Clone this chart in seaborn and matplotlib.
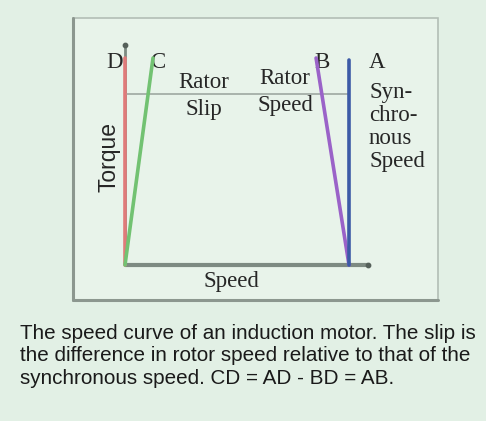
import matplotlib
matplotlib.use("Agg")
import matplotlib.pyplot as plt
import seaborn as sns
import pandas as pd

# ---- data (speed as fraction of synchronous speed, torque normalised) ----
line_names = ["D", "C", "B", "A"]
line_speed = [[0.0, 0.0], [0.0, 0.125], [1.0, 0.853], [1.0, 1.0]]
line_torque = [[0.0, 1.0], [0.0, 1.0], [0.0, 1.0], [0.0, 0.99]]
line_colors = ["#e07a7a", "#72c272", "#9a62c8", "#3c5aa6"]
slip_level = 0.826
axis_x_end = 1.085
axis_y_end = 1.063
x_label = "Speed"
y_label = "Torque"
caption = ("The speed curve of an induction motor. The slip is\n"
           "the difference in rotor speed relative to that of the\n"
           "synchronous speed. CD = AD - BD = AB.")

sns.set_theme(style="white")
W, H = 486, 421
fig = plt.figure(figsize=(W / 100, H / 100), dpi=100)
fig.patch.set_facecolor("#e2f0e5")

# background / frame axes in pixel coordinates
bg = fig.add_axes([0, 0, 1, 1])
bg.set_xlim(0, W)
bg.set_ylim(H, 0)
bg.axis("off")
bg.add_patch(plt.Rectangle((73, 18), 365, 282, facecolor="#e8f3ea",
                           edgecolor="#b3beb6", linewidth=1.2))
bg.plot([73, 73], [18, 300], color="#8c978f", lw=2.2)
bg.plot([73, 438], [300, 300], color="#8c978f", lw=2.2)
bg.text(20, 324, caption, fontsize=14.9, family="Liberation Sans",
        color="#1a1a1a", linespacing=1.23, va="top", ha="left")

# main data axes: origin at pixel (125, 265), speed 1.0 at x=349, torque 1.0 at y=58
ox, oy, sx, sy = 125, 265, 349, 58
ax = fig.add_axes([ox / W, (H - oy) / H, (sx - ox) / W, (oy - sy) / H])
ax.patch.set_alpha(0)

# axes with end dots
ax.plot([0, axis_x_end], [0, 0], color="#7d8a82", lw=3, clip_on=False,
        solid_capstyle="butt")
ax.plot([0, 0], [0, axis_y_end], color="#7d8a82", lw=2, clip_on=False)
ax.scatter([axis_x_end], [0], s=10, color="#55605a", clip_on=False, zorder=5)
ax.scatter([0], [axis_y_end], s=10, color="#55605a", clip_on=False, zorder=5)

# slip level line
ax.plot([0, 1], [slip_level, slip_level], color="#a9b3ac", lw=1.4, clip_on=False)

for name, xs, ys, c in zip(line_names, line_speed, line_torque, line_colors):
    df = pd.DataFrame({"speed": xs, "torque": ys})
    sns.lineplot(data=df, x="speed", y="torque", sort=False, estimator=None,
                 color=c, lw=2.6, ax=ax, clip_on=False, zorder=4)
ax.set_xlim(0, 1)
ax.set_ylim(0, 1)
ax.axis("off")

serif = "Liberation Serif"
fs = 16.5
bg.text(115, 63, "D", fontsize=fs, family=serif, ha="center", va="center")
bg.text(158, 63, "C", fontsize=fs, family=serif, ha="center", va="center")
bg.text(322, 63, "B", fontsize=fs, family=serif, ha="center", va="center")
bg.text(377, 63, "A", fontsize=fs, family=serif, ha="center", va="center")
bg.text(204, 96, "Rator\nSlip", fontsize=fs, family=serif, ha="center",
        va="center", linespacing=1.4)
bg.text(285, 92, "Rator\nSpeed", fontsize=fs, family=serif, ha="center",
        va="center", linespacing=1.4)
bg.text(369, 127, "Syn-\nchro-\nnous\nSpeed", fontsize=fs, family=serif,
        ha="left", va="center", linespacing=1.12)
bg.text(231, 281, x_label, fontsize=fs, family=serif, ha="center", va="center")
bg.text(109, 157, y_label, fontsize=16.5, family="Liberation Sans", ha="center",
        va="center", rotation=90)

fig.savefig("out.png", dpi=100, facecolor=fig.get_facecolor())
